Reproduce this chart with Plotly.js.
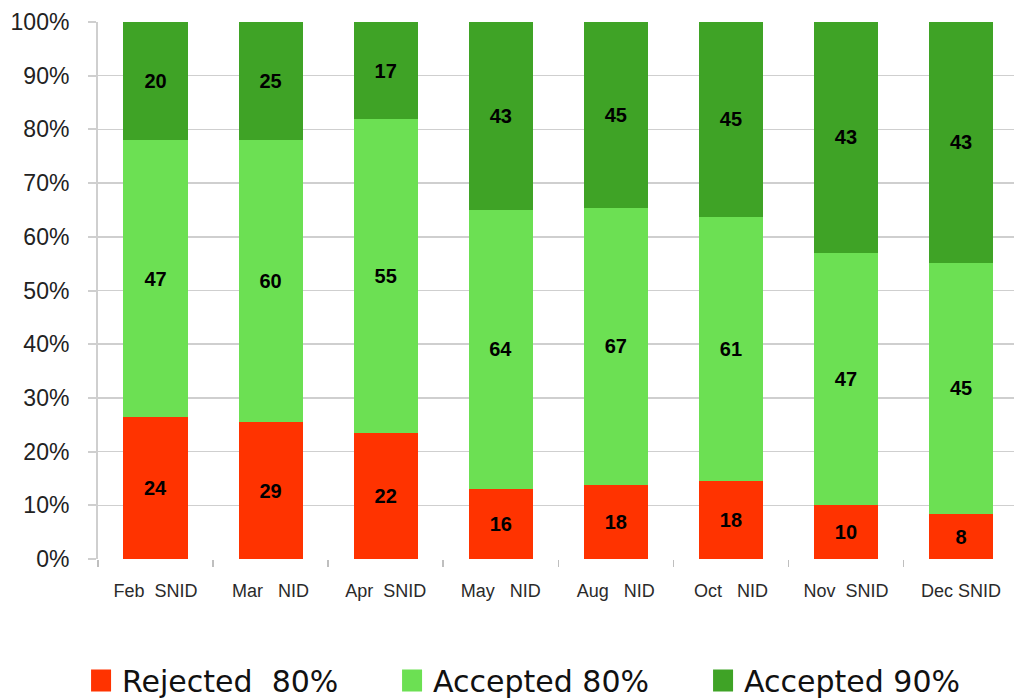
<!DOCTYPE html>
<html>
<head>
<meta charset="utf-8">
<script src="https://cdn.plot.ly/plotly-3.0.1.min.js"></script>
<style>
  html, body { margin: 0; padding: 0; background: #fff; }
  #chart { width: 1014px; height: 700px; }
</style>
</head>
<body>
<div id="chart"></div>
<script>
// Monthly campaigns and their classification counts
const categories = ["Feb\u00a0\u00a0SNID", "Mar\u00a0\u00a0\u00a0NID", "Apr\u00a0\u00a0SNID", "May\u00a0\u00a0\u00a0NID",
                    "Aug\u00a0\u00a0\u00a0NID", "Oct\u00a0\u00a0\u00a0NID", "Nov\u00a0\u00a0SNID", "Dec SNID"];
const rejected80 = [24, 29, 22, 16, 18, 18, 10, 8];
const accepted80 = [47, 60, 55, 64, 67, 61, 47, 45];
const accepted90 = [20, 25, 17, 43, 45, 45, 43, 43];

const seriesNames = ["Rejected\u00a0\u00a080%", "Accepted 80%", "Accepted 90%"];
const seriesColors = ["#FF3300", "#6CE053", "#3FA326"];
const seriesValues = [rejected80, accepted80, accepted90];

const labelFont = { family: "Liberation Sans, Arial, sans-serif", size: 20, color: "#000" };

const traces = seriesValues.map((vals, i) => ({
  type: "bar",
  name: seriesNames[i],
  x: categories,
  y: vals,
  text: vals.map(v => "<b>" + v + "</b>"),
  texttemplate: "%{text}",
  textposition: "inside",
  insidetextanchor: "middle",
  textangle: 0,
  constraintext: "none",
  textfont: labelFont,
  marker: { color: seriesColors[i], line: { width: 0 } },
  hoverinfo: "skip"
}));

const layout = {
  width: 1014,
  height: 700,
  margin: { l: 98, r: 0, t: 22, b: 141, autoexpand: false },
  paper_bgcolor: "#fff",
  plot_bgcolor: "#fff",
  barmode: "stack",
  barnorm: "percent",
  bargap: 0.443,
  font: { family: "Liberation Sans, Arial, sans-serif", color: "#222" },
  xaxis: {
    type: "category",
    range: [-0.5, 7.46],
    tickson: "boundaries",
    ticks: "outside",
    ticklen: 7,
    tickwidth: 1.5,
    tickcolor: "#BFBFBF",
    showgrid: false,
    showline: false,
    zeroline: false,
    tickfont: { size: 18, color: "#2a2a2a" },
    ticklabelstandoff: 19,
    automargin: false,
    fixedrange: true
  },
  yaxis: {
    range: [0, 100],
    tickvals: [0, 10, 20, 30, 40, 50, 60, 70, 80, 90, 100],
    ticktext: ["0%", "10%", "20%", "30%", "40%", "50%", "60%", "70%", "80%", "90%", "100%"],
    ticks: "outside",
    ticklen: 8,
    tickwidth: 2,
    tickcolor: "#CFCFCF",
    showgrid: true,
    gridcolor: "#CFCFCF",
    gridwidth: 1.5,
    showline: true,
    linecolor: "#CFCFCF",
    linewidth: 2,
    zeroline: false,
    tickfont: { size: 23, color: "#222" },
    ticklabelstandoff: 14,
    automargin: false,
    fixedrange: true
  },
  showlegend: true,
  legend: {
    orientation: "h",
    x: -0.0174,
    xanchor: "left",
    y: -0.178,
    yanchor: "top",
    entrywidth: 266,
    entrywidthmode: "pixels",
    font: { family: "DejaVu Sans, Liberation Sans, sans-serif", size: 30, color: "#111" },
    traceorder: "normal",
    itemclick: false,
    itemdoubleclick: false
  }
};

// Resize each legend swatch to a 20 x 22 px block sitting 11 px left of its label
function styleLegendSwatches(gd) {
  const SW = 20, SH = 22, GAP = 11;
  gd.querySelectorAll(".legend .traces").forEach(item => {
    const path = item.querySelector(".legendpoints path");
    const label = item.querySelector("text.legendtext");
    if (!path || !label) return;
    path.removeAttribute("transform");
    const bb = path.getBBox();
    const rect = path.getBoundingClientRect();
    const textLeft = label.getBoundingClientRect().left;
    const sx = SW / bb.width, sy = SH / bb.height;
    const originX = rect.left - bb.x;
    const tx = (textLeft - GAP - SW) - originX - sx * bb.x;
    const cy = bb.y + bb.height / 2;
    const ty = cy * (1 - sy);
    path.setAttribute("transform", `translate(${tx},${ty}) scale(${sx},${sy})`);
  });
}

Plotly.newPlot("chart", traces, layout, { displayModeBar: false, staticPlot: true })
  .then(styleLegendSwatches);
</script>
</body>
</html>
